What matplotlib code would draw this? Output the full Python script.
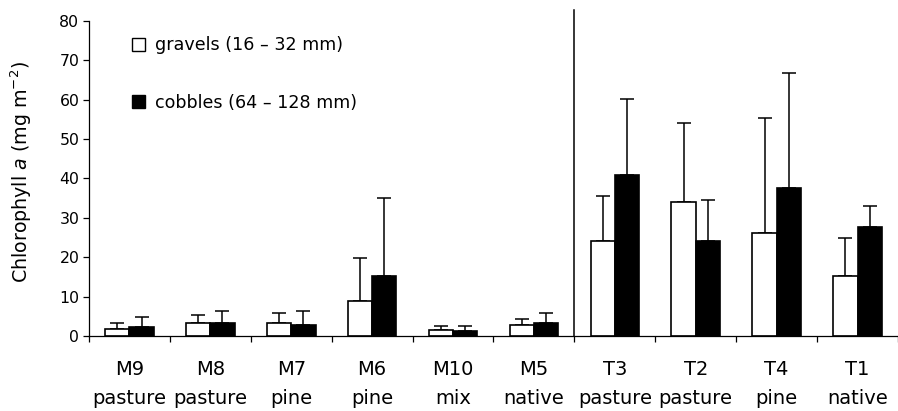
import matplotlib
matplotlib.use('Agg')
import matplotlib.pyplot as plt
from matplotlib.patches import Patch
import numpy as np

plt.rcParams['font.family'] = ['DejaVu Sans']
plt.rcParams['mathtext.fontset'] = 'dejavusans'

# sites and land use
sites = ['M9\npasture', 'M8\npasture', 'M7\npine', 'M6\npine', 'M10\nmix',
         'M5\nnative', 'T3\npasture', 'T2\npasture', 'T4\npine', 'T1\nnative']

# chlorophyll a means and upper error (mg m-2)
gravel_mean = [1.7, 3.4, 3.4, 9.0, 1.5, 2.8, 24.2, 34.0, 26.2, 15.3]
gravel_err = [1.5, 1.9, 2.4, 10.9, 1.1, 1.4, 11.3, 20.2, 29.2, 9.7]
cobble_mean = [2.2, 3.4, 2.8, 15.3, 1.2, 3.4, 40.9, 24.2, 37.7, 27.8]
cobble_err = [2.5, 2.9, 3.5, 19.7, 1.4, 2.4, 19.2, 10.3, 29.2, 5.1]

x = np.arange(len(sites))
w = 0.3

fig = plt.figure(figsize=(8.98, 4.11), dpi=100)
ax = fig.add_axes([0.0991, 0.1825, 0.9009, 0.7664])

ax.bar(x - w / 2, gravel_mean, w, color='white', edgecolor='black', linewidth=1.2, zorder=2)
ax.bar(x + w / 2, cobble_mean, w, color='black', edgecolor='black', linewidth=1.2, zorder=2)
ax.errorbar(x - w / 2, gravel_mean, yerr=[np.zeros(len(x)), gravel_err], fmt='none',
            ecolor='black', elinewidth=1.1, capsize=5, capthick=1.1, zorder=1)
ax.errorbar(x + w / 2, cobble_mean, yerr=[np.zeros(len(x)), cobble_err], fmt='none',
            ecolor='black', elinewidth=1.1, capsize=5, capthick=1.1, zorder=1)

# divider between M and T sites
ax.plot([5.5, 5.5], [0, 82.9], color='black', linewidth=1.1, clip_on=False)

ax.set_xlim(-0.5, 9.5)
ax.set_ylim(0, 80)
ax.set_yticks(np.arange(0, 81, 10))
ax.tick_params(axis='y', direction='out', length=4, width=0.9, labelsize=11.3, pad=3)

ax.set_xticks(x)
ax.set_xticklabels(sites, fontsize=14, linespacing=1.66)
ax.set_xticks(np.arange(-0.5, 9.6, 1), minor=True)
ax.tick_params(axis='x', which='major', length=0, pad=17.3)
ax.tick_params(axis='x', which='minor', direction='out', length=4.3, width=0.9)

for s in ['top', 'right']:
    ax.spines[s].set_visible(False)
for s in ['left', 'bottom']:
    ax.spines[s].set_linewidth(0.9)

ax.set_ylabel('Chlorophyll $\\it{a}$ (mg m$^{-2}$)', fontsize=13.7)
ax.yaxis.set_label_coords(-0.068, 0.52)

handles = [Patch(facecolor='white', edgecolor='black', linewidth=1.0),
           Patch(facecolor='black', edgecolor='black', linewidth=1.0)]
ax.legend(handles, ['gravels (16 \u2013 32 mm)', 'cobbles (64 \u2013 128 mm)'],
          loc='upper left', bbox_to_anchor=(0.053, 0.951), frameon=False,
          fontsize=12.6, handlelength=0.75, handleheight=0.75, handletextpad=0.55,
          labelspacing=2.25, borderpad=0, borderaxespad=0)

fig.savefig('out.png', dpi=100)
